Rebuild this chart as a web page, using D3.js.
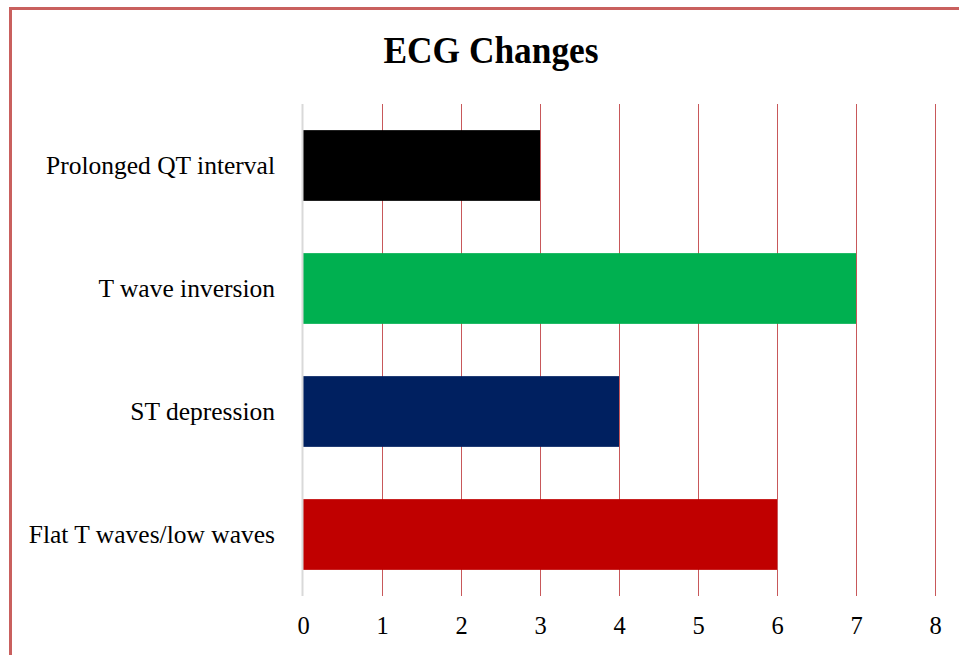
<!DOCTYPE html>
<html>
<head>
<meta charset="utf-8">
<script src="https://cdn.jsdelivr.net/npm/d3@7"></script>
<style>
  html, body { margin: 0; padding: 0; background: #fff; }
  svg { display: block; }
</style>
</head>
<body>
<svg id="chart" width="959" height="655"></svg>
<script>
const categories = ["Prolonged QT interval", "T wave inversion", "ST depression", "Flat T waves/low waves"];
const values = [3, 7, 4, 6];
const barColors = ["#000000", "#00b050", "#002060", "#c00000"];
const xTicks = [0, 1, 2, 3, 4, 5, 6, 7, 8];
const title = "ECG Changes";

const svg = d3.select("#chart");
const plot = { left: 303, right: 935, top: 104, bottom: 596 };
const serif = "'Liberation Serif', 'Times New Roman', serif";

// outer border
svg.append("rect")
  .attr("x", 10.5).attr("y", 8.5)
  .attr("width", 980).attr("height", 700)
  .attr("fill", "#fff")
  .attr("stroke", "#c9605e").attr("stroke-width", 3);

const x = d3.scaleLinear().domain([0, 8]).range([plot.left, plot.right]);
const y = d3.scaleBand().domain(categories).range([plot.top, plot.bottom]).paddingInner(0.425).paddingOuter(0.2125);

// gridlines
svg.append("g").selectAll("line")
  .data(xTicks.filter(d => d > 0))
  .join("line")
  .attr("x1", d => Math.round(x(d)) + 0.5).attr("x2", d => Math.round(x(d)) + 0.5)
  .attr("y1", plot.top).attr("y2", plot.bottom)
  .attr("stroke", "#c8585a").attr("stroke-width", 1);

// bars
svg.append("g").selectAll("rect")
  .data(categories)
  .join("rect")
  .attr("x", x(0))
  .attr("y", d => y(d))
  .attr("width", (d, i) => x(values[i]) - x(0))
  .attr("height", y.bandwidth())
  .attr("fill", (d, i) => barColors[i]);

// zero axis line
svg.append("line")
  .attr("x1", Math.round(x(0)) - 0.5).attr("x2", Math.round(x(0)) - 0.5)
  .attr("y1", plot.top).attr("y2", plot.bottom)
  .attr("stroke", "#d9d9d9").attr("stroke-width", 2);

// x axis tick labels
const xAxis = d3.axisBottom(x).tickValues(xTicks).tickSize(0).tickPadding(0).tickFormat(d3.format("d"));
const gx = svg.append("g").attr("transform", `translate(0,${plot.bottom})`).call(xAxis);
gx.select(".domain").remove();
gx.selectAll("text")
  .attr("y", 0).attr("dy", null)
  .attr("transform", "translate(0,38)")
  .style("font-family", serif).style("font-size", "24.5px").attr("fill", "#000");

// y axis labels
const yAxis = d3.axisLeft(y).tickSize(0).tickPadding(28);
const gy = svg.append("g").attr("transform", `translate(${plot.left},0)`).call(yAxis);
gy.select(".domain").remove();
gy.selectAll("text")
  .style("font-family", serif).style("font-size", "25.5px").attr("fill", "#000");

// title
svg.append("text")
  .attr("x", 491).attr("y", 63)
  .attr("text-anchor", "middle")
  .attr("textLength", 215).attr("lengthAdjust", "spacingAndGlyphs")
  .style("font-family", serif).style("font-weight", "bold").style("font-size", "37px")
  .text(title);
</script>
</body>
</html>
